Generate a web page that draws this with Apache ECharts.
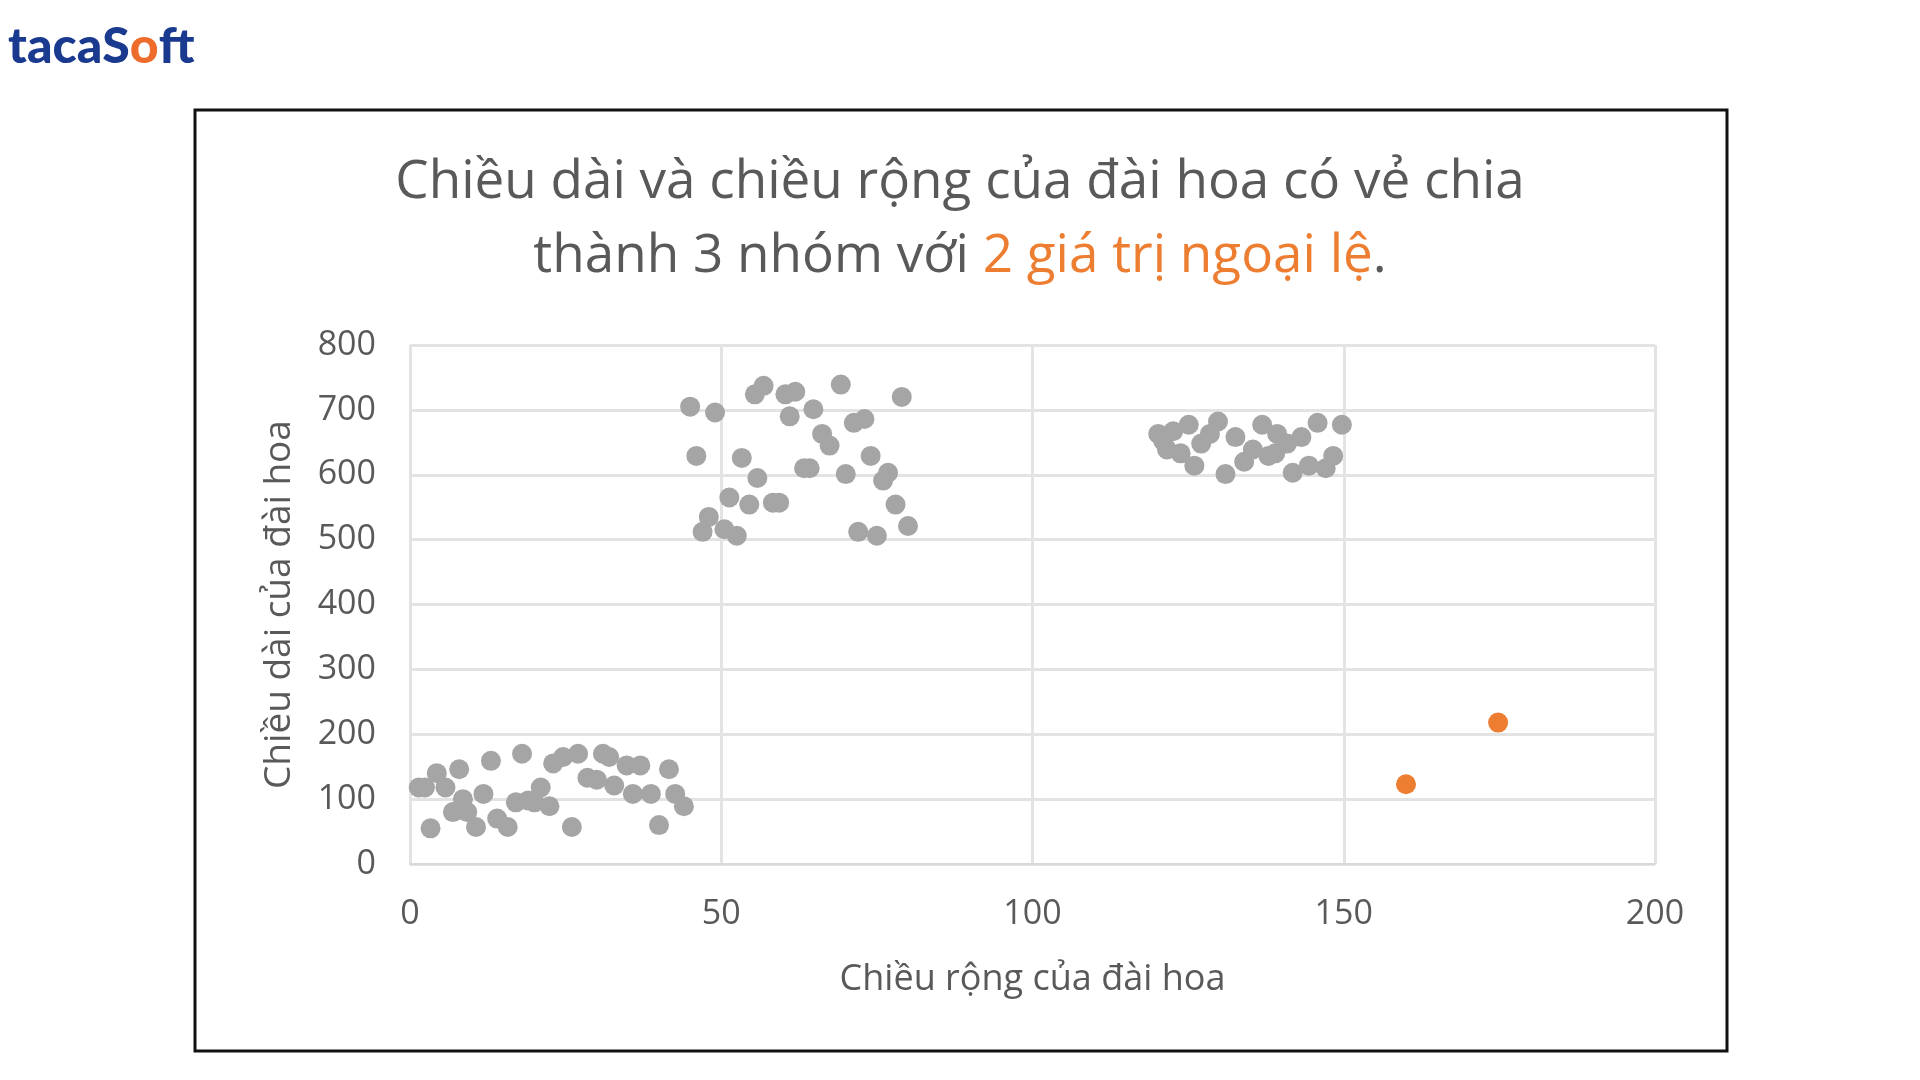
<!DOCTYPE html>
<html>
<head>
<meta charset="utf-8">
<script src="https://cdn.jsdelivr.net/npm/echarts@6/dist/echarts.min.js"></script>
<style>html,body{margin:0;padding:0;background:#fff}#main{width:1920px;height:1080px}</style>
</head>
<body>
<div id="main"></div>
<script>
// nhóm 1 (đài hoa nhỏ)
var group1 = [[1.4,118],[2.4,118],[3.3,55],[4.3,140],[5.7,118],[6.9,80],[7.9,146],[9.2,80],[10.6,57],[11.8,108],
  [13,159],[14,70],[15.7,57],[17,95],[18,170],[20,95],[21,118],[22.4,89],[23,155],[24.6,165],[26,57],[27,170],
  [28.5,133],[30,130],[31,170],[32,165],[32.8,121],[34.8,152],[35.8,108],[37,152],[38.7,108],[40,60],[41.6,146],
  [42.6,108],[44,89],[8.5,100],[19,98]];
// nhóm 2
var group2 = [[45,705],[46,629],[47,512],[48,535],[49,696],[50.5,516],[51.3,565],[52.5,506],[53.3,626],[54.5,554],
  [55.4,724],[55.8,595],[56.8,737],[58.3,557],[59.3,557],[60.3,724],[61,690],[61.9,728],[63.3,610],[64.2,610],
  [64.8,701],[66.2,663],[67.4,645],[69.2,739],[70,601],[71.3,680],[72,512],[73,686],[74,629],[75,506],[76,591],
  [76.8,603],[78,554],[79,720],[80,521]];
// nhóm 3
var group3 = [[120.2,663],[121,652],[121.6,639],[122.6,667],[123.8,633],[125.1,677],[126,614],[127.1,648],[128.5,663],
  [129.8,682],[131,601],[132.6,658],[134,620],[135.4,639],[136.9,677],[137.9,629],[139,633],[139.3,663],[140.9,648],
  [141.8,603],[143.2,658],[144.4,614],[145.8,680],[147.1,610],[148.3,629],[149.7,677]];
// giá trị ngoại lệ
var outliers = [[160,123],[174.8,218]];
var xTicks = [0, 50, 100, 150, 200];
var yTicks = [0, 100, 200, 300, 400, 500, 600, 700, 800];

var chart = echarts.init(document.getElementById('main'));
var txt = '#595959';
chart.setOption({
  animation: false,
  textStyle: {fontFamily: 'Open Sans'},
  title: {
    text: '{a|Chiều dài và chiều rộng của đài hoa có vẻ chia}\n{a|thành 3 nhóm với }{b|2 giá trị ngoại lệ}{a|.}',
    left: 'center', top: 141,
    textStyle: {rich: {
      a: {fontSize: 53, color: txt, lineHeight: 74, fontWeight: 'normal', fontFamily: 'Open Sans'},
      b: {fontSize: 53, color: '#ed7d31', lineHeight: 74, fontWeight: 'normal', fontFamily: 'Open Sans'}
    }}
  },
  graphic: [
    {type: 'rect', shape: {x: 195, y: 110, width: 1541 - 9, height: 941}, style: {fill: 'none', stroke: '#111', lineWidth: 3}},
    {type: 'text', left: 8, top: 22, style: {
      text: '{t|taca}{t|S}{o|o}{t|ft}',
      rich: {
        t: {fontSize: 50, fontWeight: 900, fill: '#1a3a8f', fontFamily: 'Lato'},
        o: {fontSize: 50, fontWeight: 900, fill: '#ee6c2b', fontFamily: 'Lato'}
      }}}
  ],
  grid: {left: 410, right: 1920 - 1663 + 8, top: 345, bottom: 1080 - 864},
  xAxis: {
    type: 'value', min: 0, max: 200, interval: 50,
    name: 'Chiều rộng của đài hoa', nameLocation: 'middle', nameGap: 98,
    nameTextStyle: {fontSize: 36, color: txt},
    axisLine: {show: true, lineStyle: {color: '#d9d9d9', width: 2}},
    axisTick: {show: false},
    axisLabel: {fontSize: 34, color: txt, margin: 33},
    splitLine: {show: true, lineStyle: {color: '#e3e3e3', width: 3}}
  },
  yAxis: {
    type: 'value', min: 0, max: 800, interval: 100,
    name: 'Chiều dài của đài hoa', nameLocation: 'middle', nameGap: 112,
    nameTextStyle: {fontSize: 37, color: txt},
    axisLine: {show: false}, axisTick: {show: false},
    axisLabel: {fontSize: 34, color: txt, margin: 34},
    splitLine: {lineStyle: {color: '#e3e3e3', width: 3}}
  },
  series: [
    {type: 'scatter', data: group1, symbolSize: 20, itemStyle: {color: '#a5a5a5', opacity: 1}},
    {type: 'scatter', data: group2, symbolSize: 20, itemStyle: {color: '#a5a5a5', opacity: 1}},
    {type: 'scatter', data: group3, symbolSize: 20, itemStyle: {color: '#a5a5a5', opacity: 1}},
    {type: 'scatter', data: outliers, symbolSize: 20, itemStyle: {color: '#ed7d31', opacity: 1}}
  ]
});
</script>
</body>
</html>
